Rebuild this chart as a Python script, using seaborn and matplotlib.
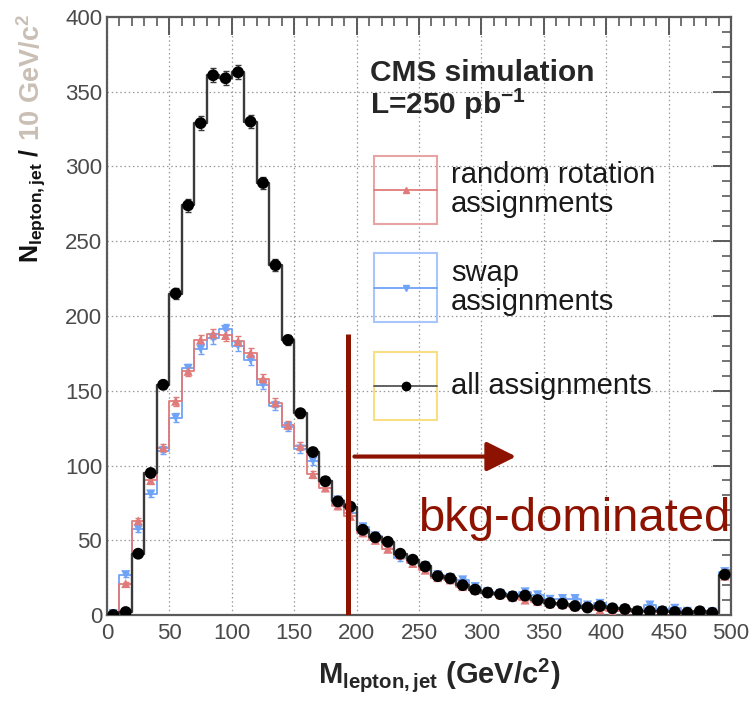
import numpy as np
import pandas as pd
import seaborn as sns
import matplotlib
matplotlib.use("Agg")
import matplotlib.pyplot as plt
from matplotlib.patches import Rectangle, FancyArrowPatch

# Bin edges of the lepton+jet invariant mass, 10 GeV/c^2 wide
bin_edges = list(range(0, 510, 10))

# Entries per bin: all jet assignments
all_assign = [0, 2, 41, 95, 154, 215, 274, 329, 361, 359,
              363, 330, 289, 234, 184, 135, 109, 89.5, 76, 72.5,
              57, 52, 49, 41, 37, 32.5, 26, 24.5, 20, 17,
              15, 14, 12.5, 13, 10, 8, 7.5, 6, 5, 6,
              4.5, 4, 2.5, 2.5, 2.5, 2, 1.5, 2.5, 1.5, 27]

# Entries per bin: random rotation assignments
rot_assign = [0.5, 21, 63, 90, 112, 143, 163, 184, 188, 187,
              183, 175, 158, 142, 127, 113, 94, 85, 73, 66,
              55, 50, 44, 40, 34.5, 30, 25, 23.5, 19, 16.5,
              14.5, 13.5, 12, 10, 9, 7.5, 7, 5.5, 5, 3.5,
              2.5, 3.5, 2, 2.5, 2, 2, 1.5, 2, 1.5, 26]

# Entries per bin: swap assignments
swap_assign = [1, 27, 57.5, 81, 110, 132, 165, 178, 185, 191,
               180, 170.5, 154, 140, 126, 111, 103, 89.5, 77, 68.5,
               59, 53, 48, 38, 36, 33, 27, 25, 23.5, 19,
               15.5, 14.5, 13, 15.5, 13.5, 10.5, 11, 11, 6.7, 7.8,
               4.5, 4, 3, 6.7, 3, 4.5, 2.5, 2.5, 2, 29]

x_ticks = [0, 50, 100, 150, 200, 250, 300, 350, 400, 450, 500]
y_ticks = [0, 50, 100, 150, 200, 250, 300, 350, 400]

cut_mass = 193
mc_weight = 0.0625  # per-event MC weight, sets the statistical errors

centers = [(a + b) / 2 for a, b in zip(bin_edges[:-1], bin_edges[1:])]
df = pd.DataFrame({"mass": centers, "all": all_assign,
                   "rot": rot_assign, "swap": swap_assign})

sns.set_theme(style="white")
plt.rcParams["font.family"] = ["Liberation Sans", "DejaVu Sans"]
plt.rcParams["mathtext.fontset"] = "custom"
plt.rcParams["mathtext.rm"] = "Liberation Sans"
plt.rcParams["mathtext.bf"] = "Liberation Sans:bold"
plt.rcParams["mathtext.it"] = "Liberation Sans:italic"

fig = plt.figure(figsize=(7.53, 7.02), dpi=100)
ax = fig.add_axes([0.1421, 0.1239, 0.8287, 0.8519])

series = [
    ("swap", "#6fa3f7", "v", 6.5),
    ("rot", "#e07b7b", "^", 6.5),
    ("all", "#3a3a3a", "o", 8.5),
]
for col, color, marker, ms in series:
    sns.histplot(data=df, x="mass", weights=col, bins=bin_edges,
                 element="step", fill=False, color=color,
                 linewidth=1.7 if col == "all" else 1.3, ax=ax)
    # weighted Poisson error: sqrt(sum w^2) = sqrt(N * w)
    err = np.sqrt(np.asarray(df[col]) * mc_weight)
    ax.errorbar(df["mass"], df[col], yerr=err, fmt="none",
                ecolor=color, elinewidth=1.0, capsize=2, capthick=1.0)
    sns.scatterplot(data=df, x="mass", y=col, marker=marker, s=ms ** 2,
                    color="black" if col == "all" else color,
                    edgecolor="none", ax=ax, zorder=5)

ax.set_xlim(0, 500)
ax.set_ylim(0, 400)
ax.set_xticks(x_ticks)
ax.set_yticks(y_ticks)
ax.set_xticks(range(0, 501, 10), minor=True)
ax.set_yticks(range(0, 401, 10), minor=True)
ax.set_xlabel("")
ax.set_ylabel("")
ax.grid(True, which="major", color="#9a9a9a", linestyle=(0, (1.2, 2.2)),
        linewidth=0.9)
ax.tick_params(axis="both", which="both", direction="in",
               top=True, right=True, colors="#5a5a5a",
               labelcolor="#4a4a4a", labelsize=16)
ax.tick_params(which="major", length=13, width=1.4)
ax.tick_params(which="minor", length=6.5, width=1.2)
ax.tick_params(axis="x", pad=6)
for sp in ax.spines.values():
    sp.set_color("#5a5a5a")
    sp.set_linewidth(1.6)

# Cut line and background-dominated region
dark_red = "#8e1200"
ax.plot([cut_mass, cut_mass], [0, 188], color=dark_red, linewidth=3.6,
        solid_capstyle="butt", zorder=6)
ax.add_patch(FancyArrowPatch((cut_mass + 3, 106), (330, 106),
                             arrowstyle="-|>,head_length=0.9,head_width=0.45",
                             mutation_scale=20, color=dark_red, linewidth=3,
                             zorder=6))
ax.text(249, 64, "bkg-dominated", color=dark_red, fontsize=34,
        ha="left", va="center", zorder=6)

# Header text
ax.text(0.4215, 0.906, "CMS simulation", transform=ax.transAxes,
        fontsize=21.5, fontweight="bold", ha="left", va="center")
ax.text(0.4215, 0.853, r"L=250 pb$^{\mathbf{-1}}$", transform=ax.transAxes,
        fontsize=21.5, fontweight="bold", ha="left", va="center")

# Legend
legend_rows = [
    ("random rotation\nassignments", "#e8a4a4", "#e07b7b", "^", 0.654, 0.7676),
    ("swap\nassignments", "#a8c6fb", "#6fa3f7", "v", 0.490, 0.605),
    ("all assignments", "#f8df84", "#3a3a3a", "o", 0.326, 0.440),
]
bx0, bx1 = 0.428, 0.529
for label, box_color, line_color, marker, y0, y1 in legend_rows:
    ax.add_patch(Rectangle((bx0, y0), bx1 - bx0, y1 - y0,
                           transform=ax.transAxes, fill=False,
                           edgecolor=box_color, linewidth=1.5, zorder=7))
    ym = (y0 + y1) / 2
    ax.plot([bx0, bx1], [ym, ym], transform=ax.transAxes,
            color="#555555" if marker == "o" else line_color,
            linewidth=1.3, zorder=7)
    ax.plot([(bx0 + bx1) / 2], [ym], transform=ax.transAxes,
            marker=marker, color="black" if marker == "o" else line_color,
            markersize=5 if marker != "o" else 6, linestyle="none", zorder=8)
    ax.text(0.551, ym, label, transform=ax.transAxes, fontsize=21,
            ha="left", va="center", linespacing=1.05, color="#1a1a1a",
            zorder=8)

# Axis titles
fig.text(0.583, 0.0385,
         r"$\mathbf{M_{lepton,jet}}$ (GeV/c$^{\mathbf{2}}$)",
         fontsize=21, fontweight="bold", ha="center", va="center")
split_y = 1 - 148 / 702
fig.text(0.0425, split_y, r"$\mathbf{N_{lepton,jet}}$ /", rotation=90,
         rotation_mode="anchor", ha="right", va="center",
         fontsize=18, fontweight="bold", color="#111111")
fig.text(0.0425, split_y, r" 10 GeV/c$^{\mathbf{2}}$", rotation=90,
         rotation_mode="anchor", ha="left", va="center",
         fontsize=19.5, fontweight="bold", color="#c9bfb5")

fig.savefig("out.png", dpi=100)
